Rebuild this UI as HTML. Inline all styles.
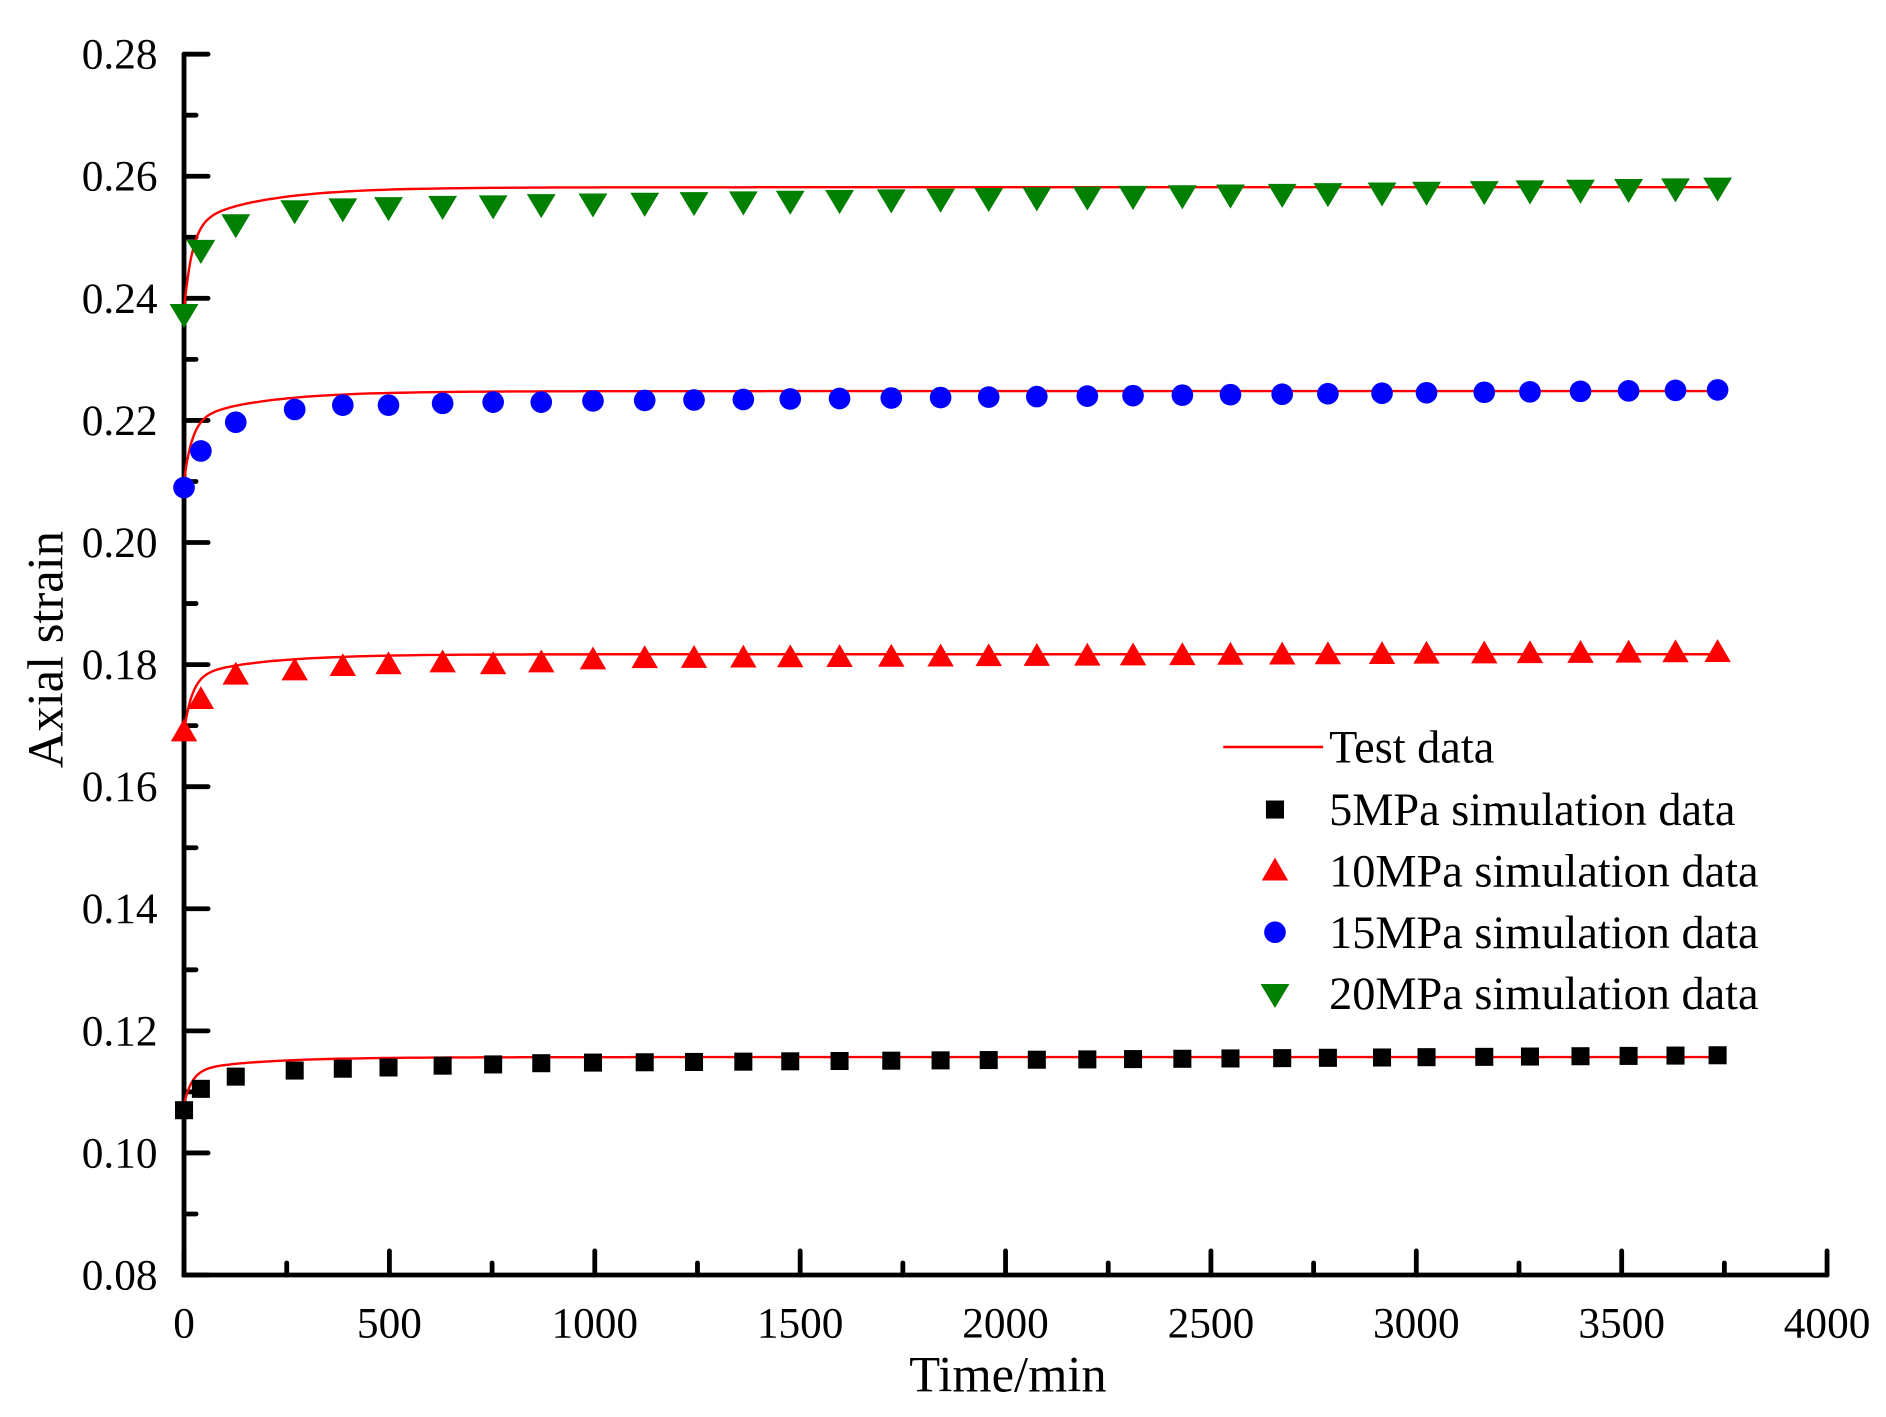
<!DOCTYPE html>
<html><head><meta charset="utf-8"><style>html,body{margin:0;padding:0;background:#fff}svg{display:block}</style></head>
<body>
<svg id="s" width="1886" height="1417" viewBox="0 0 1568 1178" xmlns="http://www.w3.org/2000/svg" font-family="'Liberation Serif',serif"></svg>
<script>
const s=document.getElementById('s');let h='';
const X=t=>153+t/4000*1366, Y=v=>1060-(v-0.08)/0.2*1015;
h+=`<path d="M153,45 L153,1060 L1519,1060" fill="none" stroke="#000" stroke-width="4" stroke-linecap="round"/>`;
for(let i=0;i<=20;i++){const v=0.08+i*0.01,y=Y(v),maj=i%2==0;
 h+=`<line x1="153" x2="${153+(maj?20:10)}" y1="${y}" y2="${y}" stroke="#000" stroke-width="4" stroke-linecap="round"/>`;
 if(maj)h+=`<text x="131" y="${y+12}" font-size="36" text-anchor="end">${v.toFixed(2)}</text>`;}
for(let i=0;i<=16;i++){const t=i*250,x=X(t),maj=i%2==0;
 h+=`<line x1="${x}" x2="${x}" y1="1060" y2="${1060-(maj?20:10)}" stroke="#000" stroke-width="4" stroke-linecap="round"/>`;
 if(maj)h+=`<text x="${x}" y="1112" font-size="36" text-anchor="middle">${t}</text>`;}
h+=`<text x="838" y="1157" font-size="42" text-anchor="middle">Time/min</text>`;
h+=`<text transform="translate(52,540) rotate(-90)" font-size="42" text-anchor="middle">Axial strain</text>`;
const curves=[[0.2582,0.014,0.0062],[0.2248,0.0100,0.0048],[0.1817,0.0090,0.0037],[0.1157,0.0055,0.0022]];
for(const [e,d1,d2] of curves){let p='';for(let t=0;t<=3750;t+=(t<300?3:25)){const v=e-d1*Math.exp(-t/20)-d2*Math.exp(-t/180);p+=(p?'L':'M')+X(t).toFixed(1)+','+Y(v).toFixed(1);}
 h+=`<path d="${p}" fill="none" stroke="#f00" stroke-width="2"/>`;}
const xs=[153,167,196,245,285,323,368,410,450,493,536,577,618,657,698,741,782,822,862,904,942,983,1023,1066,1104,1149,1186,1234,1272,1314,1354,1393,1428];
function ser(vals,end){return xs.map((x,i)=>i<vals.length?vals[i]:vals[vals.length-1]+(end-vals[vals.length-1])*((i-vals.length+1)/(xs.length-vals.length)));}
const g=ser([0.2375,0.248,0.2522,0.2545,0.2548,0.255,0.2552,0.2553,0.2555,0.2556],0.2582);
const b=ser([0.209,0.215,0.2197,0.2218,0.2225,0.2225,0.2228,0.223,0.223,0.2232],0.225);
const r=ser([0.169,0.1743,0.1783,0.179,0.1797,0.18,0.1803,0.180,0.1803,0.1808,0.181],0.182);
const k=ser([0.107,0.1105,0.1125,0.1135,0.1138,0.114,0.1143,0.1145,0.1147,0.1148],0.116);
const sq=(x,y)=>`<rect x="${x-7.5}" y="${y-7.5}" width="15" height="15" fill="#000"/>`;
const up=(x,y)=>`<path d="M${x},${y-11} L${x+11},${y+8} L${x-11},${y+8}Z" fill="#f00"/>`;
const ci=(x,y)=>`<circle cx="${x}" cy="${y}" r="9" fill="#00f"/>`;
const dn=(x,y)=>`<path d="M${x-12},${y-8} L${x+12},${y-8} L${x},${y+12}Z" fill="#008000"/>`;
xs.forEach((x,i)=>{h+=sq(x,Y(k[i]))+up(x,Y(r[i]))+ci(x,Y(b[i]))+dn(x,Y(g[i]));});
h+=`<line x1="1017" x2="1100" y1="621" y2="621" stroke="#f00" stroke-width="2"/>`;
const L=[['Test data',621,null],['5MPa simulation data',673,sq],['10MPa simulation data',724,up],['15MPa simulation data',775,ci],['20MPa simulation data',826,dn]];
for(const [t,y,f] of L){if(f)h+=f(1060,y);h+=`<text x="1105" y="${y+13}" font-size="38.5">${t}</text>`;}
s.innerHTML=h;
</script>
</body></html>
